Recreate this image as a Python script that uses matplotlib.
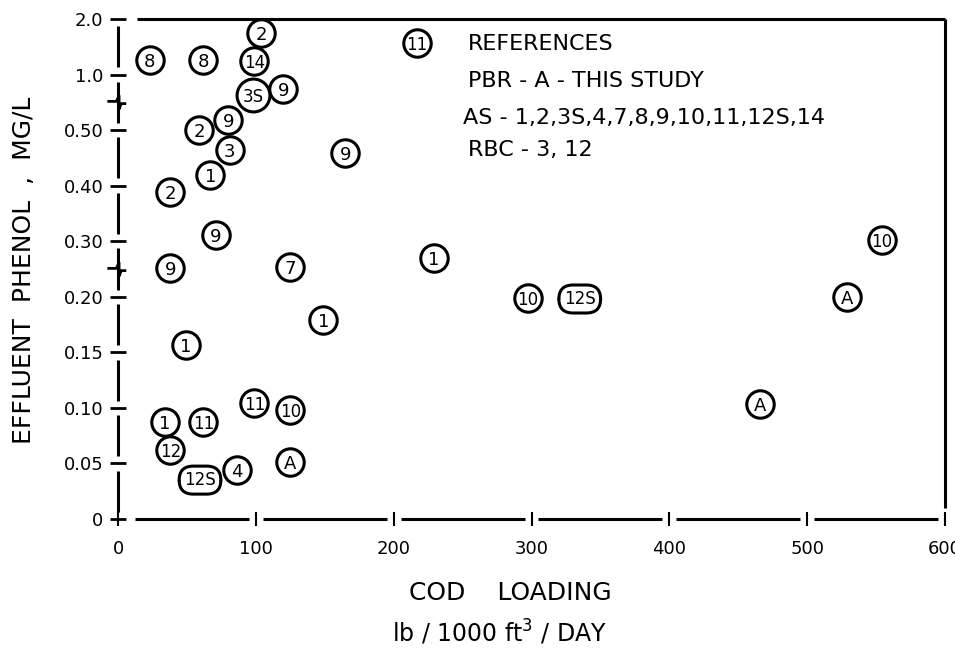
import numpy as np
import matplotlib
matplotlib.use('Agg')
import matplotlib.pyplot as plt
from matplotlib.path import Path

# broken y axis: every tick value sits at the same spacing
y_ticks = [0, 0.05, 0.10, 0.15, 0.20, 0.30, 0.40, 0.50, 1.0, 2.0]
y_ticklabels = ['0', '0.05', '0.10', '0.15', '0.20', '0.30', '0.40', '0.50', '1.0', '2.0']
x_ticks = [0, 100, 200, 300, 400, 500, 600]
x_ticklabels = ['0', '100', '200', '300', '400', '500', '600']

# reference number of each point, COD loading, effluent phenol
refs = ['8', '8', '2', '14', '3S', '9', '9', '2', '3', '1', '2', '9', '9', '11',
        '9', '7', '1', '1', '11', '10', '1', '11', '12', '12S', '4', 'A',
        '1', '10', '12S', '10', 'A', 'A']
cod = [23, 62, 104, 99, 98, 120, 80, 59, 81, 67, 38, 71, 165, 217,
       38, 125, 149, 49, 99, 125, 34, 62, 38, 59.5, 86, 125,
       229, 297.5, 335, 554, 529, 466]
phenol = [1.26, 1.26, 1.75, 1.24, 0.815, 0.87, 0.59, 0.50, 0.464, 0.419, 0.389, 0.311, 0.459, 1.57,
          0.252, 0.254, 0.179, 0.157, 0.1045, 0.098, 0.087, 0.087, 0.062, 0.035, 0.044, 0.051,
          0.270, 0.199, 0.198, 0.302, 0.200, 0.1035]

pos = np.arange(len(y_ticks))


def fwd(v):
    return np.interp(v, y_ticks, pos)


def inv(p):
    return np.interp(p, pos, y_ticks)


plt.rcParams['font.family'] = 'DejaVu Sans'
fig = plt.figure(figsize=(9.55, 6.52), dpi=100)
ax = fig.add_axes([118 / 955, 1 - 519 / 652, (945 - 118) / 955, (519 - 19) / 652])
ax.set_xlim(0, 600)
ax.set_yscale('function', functions=(fwd, inv))
ax.set_ylim(0, 2.0)
for s in ax.spines.values():
    s.set_visible(False)

ax.set_yticks(y_ticks, y_ticklabels)
ax.yaxis.set_minor_locator(matplotlib.ticker.NullLocator())
ax.set_xticks(x_ticks, x_ticklabels)
ax.tick_params(axis='y', direction='inout', length=11, width=2, pad=5, labelsize=13)
ax.tick_params(axis='x', direction='inout', length=10, width=1.5, pad=10, labelsize=13)

kw = dict(color='black', lw=2.2, clip_on=False, solid_capstyle='butt')
# left axis drawn as broken segments between ticks
for i in range(len(y_ticks) - 1):
    ax.plot([0, 0], [inv(i + 0.13), inv(i + 0.87)], **kw)
# break marks
squig = Path([(-1, 0.1), (-0.2, 0.1), (0.05, 0.6), (0.05, -0.6), (0.25, -0.1), (0.7, -0.1)])
for p in [7.5, 4.5]:
    ax.plot([0], [inv(p)], marker=squig, markersize=16, markerfacecolor='none',
            markeredgecolor='black', markeredgewidth=2, clip_on=False)
# bottom axis segments
for k in range(6):
    start = 12 if k == 0 else k * 100 + 5
    ax.plot([start, k * 100 + 95], [0, 0], **kw)
# top and right border
ax.plot([14, 600], [2.0, 2.0], **kw)
ax.plot([600, 600], [2.0, inv(0.2)], **kw)

# circled reference numbers
for x, y, r in zip(cod, phenol, refs):
    if r == '12S':
        ax.text(x, y, r, ha='center', va='center', fontsize=12,
                bbox=dict(boxstyle='round,pad=0.3,rounding_size=0.85',
                          fc='white', ec='black', lw=2.2))
        continue
    size = 560 if r == '3S' else 390
    ax.scatter([x], [y], s=size, facecolors='white', edgecolors='black',
               linewidths=2.2, zorder=3, clip_on=False)
    ax.text(x, y, r, ha='center', va='center_baseline',
            fontsize=13 if len(r) == 1 else 12, zorder=4)

# reference key
fig.text(468 / 955, 1 - 44 / 652, 'REFERENCES', fontsize=16, va='center')
fig.text(468 / 955, 1 - 81 / 652, 'PBR - A - THIS STUDY', fontsize=16, va='center')
fig.text(463 / 955, 1 - 118 / 652, 'AS - 1,2,3S,4,7,8,9,10,11,12S,14', fontsize=16, va='center')
fig.text(468 / 955, 1 - 150 / 652, 'RBC - 3, 12', fontsize=16, va='center')

# axis titles
fig.text(24 / 955, 1 - 270 / 652, 'EFFLUENT  PHENOL  ,  MG/L', rotation=90,
         fontsize=18, ha='center', va='center')
fig.text(510 / 955, 1 - 593 / 652, 'COD    LOADING', fontsize=18, ha='center', va='center')
fig.text(500 / 955, 1 - 633 / 652, r'lb / 1000 ft$^3$ / DAY', fontsize=17,
         ha='center', va='center')

fig.savefig('out.png', dpi=100)
